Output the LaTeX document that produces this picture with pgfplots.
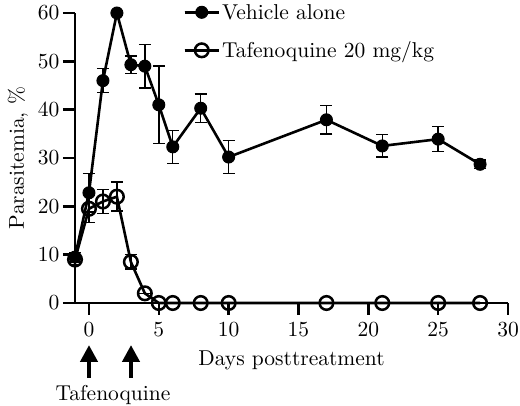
\documentclass[border=0pt]{standalone}
\usepackage{fontspec}
\setmainfont{lmroman10-regular.otf}
\usepackage{pgfplots}
\pgfplotsset{compat=1.18}
\usetikzlibrary{arrows.meta}

\begin{document}
\begin{tikzpicture}[font=\fontsize{21.5}{25}\selectfont]
\useasboundingbox (-75pt,-103pt) rectangle (445pt,303pt);
\begin{axis}[
    scale only axis,
    width=433pt, height=290pt,
    xmin=-1, xmax=30,
    ymin=0, ymax=60,
    axis lines*=left,
    clip=false,
    axis line style={line width=2.6pt},
    tick align=outside,
    major tick length=12pt,
    every tick/.style={black, line width=2.6pt},
    /pgf/number format/assume math mode=true,
    xtick={0,5,...,30},
    ytick={0,10,...,60},
    xticklabel style={yshift=-4pt},
    xlabel={Days posttreatment},
    ylabel={Parasitemia, \%},
    xlabel style={yshift=-7pt},
    ylabel style={yshift=3pt},
    legend style={draw=none, fill=none, at={(axis cs:6.75,62.3)}, anchor=north west,
        row sep=17pt, inner sep=0pt, font=\fontsize{21.5}{25}\selectfont},
    legend cell align=left,
    legend image code/.code={
        \draw[line width=2.6pt] (0pt,0pt) -- (34pt,0pt);
        \draw[mark repeat=2, mark phase=2] plot coordinates {(0pt,0pt) (17pt,0pt) (34pt,0pt)};
    },
]
% vehicle alone
\addplot[black, line width=2.6pt, mark=*, mark size=6pt, mark options={solid, fill=black, line width=1pt},
    error bars/.cd, y dir=both, y explicit,
    error bar style={line width=1.4pt},
    error mark options={rotate=90, mark size=6pt, line width=1.4pt}]
coordinates {
    (-1, 9.5) +- (0, 1.0)
    (0, 22.8) +- (0, 4.0)
    (1, 46.0) +- (0, 2.5)
    (2, 60.0) +- (0, 0)
    (3, 49.3) +- (0, 1.8)
    (4, 49.0) +- (0, 4.5)
    (5, 41.0) +- (0, 8.0)
    (6, 32.3) +- (0, 3.4)
    (8, 40.3) +- (0, 2.9)
    (10, 30.2) +- (0, 3.4)
    (17, 37.9) +- (0, 2.9)
    (21, 32.5) +- (0, 2.3)
    (25, 33.9) +- (0, 2.6)
    (28, 28.7) +- (0, 0.9)
};
\addlegendentry{Vehicle alone}
% tafenoquine
\addplot[black, line width=2.6pt, mark=o, mark size=6.8pt, mark options={solid, fill=white, line width=2.5pt},
    error bars/.cd, y dir=both, y explicit,
    error bar style={line width=1.4pt},
    error mark options={rotate=90, mark size=6pt, line width=1.4pt}]
coordinates {
    (-1, 9.0) +- (0, 1.0)
    (0, 19.5) +- (0, 2.8)
    (1, 21.0) +- (0, 2.5)
    (2, 22.0) +- (0, 3.0)
    (3, 8.5) +- (0, 1.5)
    (4, 2.0) +- (0, 0)
    (5, 0) +- (0, 0)
    (6, 0) +- (0, 0)
    (8, 0) +- (0, 0)
    (10, 0) +- (0, 0)
    (17, 0) +- (0, 0)
    (21, 0) +- (0, 0)
    (25, 0) +- (0, 0)
    (28, 0) +- (0, 0)
};
\addlegendentry{Tafenoquine 20 mg/kg}
\end{axis}
% treatment arrows (x=0 and x=3 days)
\draw[line width=4.5pt, -{Triangle[width=17pt, length=17pt]}] (14pt,-75pt) -- (14pt,-42pt);
\draw[line width=4.5pt, -{Triangle[width=17pt, length=17pt]}] (56pt,-75pt) -- (56pt,-42pt);
\node[anchor=base] at (38pt,-98pt) {Tafenoquine};
\end{tikzpicture}
\end{document}
